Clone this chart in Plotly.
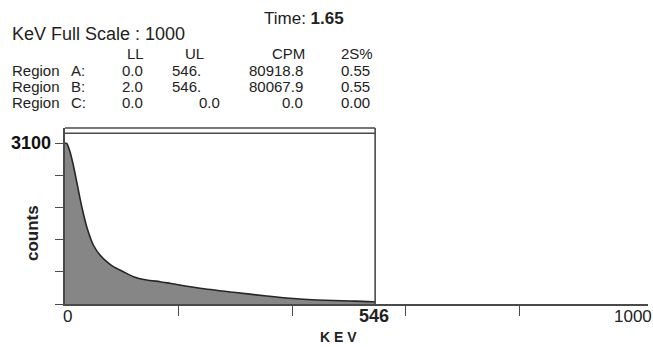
import plotly.graph_objects as go

# ---- data ----
kev = [0, 3, 8.8, 14.6, 20.6, 26.4, 32.2, 38.2, 49.8, 61.6, 73.4, 85, 102.7, 120.3,
       143.9, 167.3, 184.9, 237.8, 296.4, 355.2, 396, 443, 501.9, 543, 546]
counts = [3100, 3100, 2938, 2681, 2359, 2039, 1750, 1491, 1138, 945, 816, 720, 623, 527,
          463, 430, 399, 303, 226, 154, 110, 77, 58, 44, 40]
y_ticks = [0, 620, 1240, 1860, 2480, 3100]
x_ticks = [200, 400, 600, 800]
region_names = ["A:", "B:", "C:"]
ll_vals = ["0.0", "2.0", "0.0"]
ul_vals = ["546.", "546.", "0.0"]
cpm_vals = ["80918.8", "80067.9", "0.0"]
s2_vals = ["0.55", "0.55", "0.00"]
full_scale = 1000
roi_upper = 546
y_max_label = 3100
time_val = "1.65"

# ---- layout geometry (pixels) ----
W, H = 653, 347
L, R, T, B = 65, 648, 128, 304
X_RANGE = (R - L) / ((633 - 65) / full_scale)
Y_RANGE = (B - T) / ((B - 143.3) / y_max_label)
FONT = "Liberation Sans, Arial, sans-serif"
DARK = "#4a4a4a"


def px(x):
    return (x - L) / (R - L)


def py(y):
    return (B - y) / (B - T)


fig = go.Figure()
fig.add_trace(go.Scatter(
    x=kev, y=counts, mode="lines", fill="tozeroy",
    fillcolor="#868686", line=dict(color="#262626", width=1.6, shape="spline", smoothing=0.6),
    hoverinfo="skip", showlegend=False))

ann = []


def text(x, y, s, size=17, anchor="left", bold=False, **kw):
    if bold:
        s = "<b>" + s + "</b>"
    ann.append(dict(x=px(x), y=py(y), xref="paper", yref="paper", text=s, showarrow=False,
                    xanchor=anchor, yanchor="middle", font=dict(family=FONT, size=size, color="#222"), **kw))


text(10, 34, "KeV Full Scale : " + str(full_scale), size=18)
text(262, 19, "Time: <b>" + time_val + "</b>", size=17)
text(135, 53, "LL", size=15, anchor="center")
text(194, 53, "UL", size=15, anchor="center")
text(288, 53, "CPM", size=15, anchor="center")
text(357, 53, "2S%", size=15, anchor="center")
row_y = [70, 86, 102]
ul_right = [203, 203, 222]
RS = 15
for i in range(3):
    text(10, row_y[i], "Region", size=RS)
    text(69, row_y[i], region_names[i], size=RS)
    text(145, row_y[i], ll_vals[i], size=RS, anchor="right")
    text(ul_right[i], row_y[i], ul_vals[i], size=RS, anchor="right")
    text(305, row_y[i], cpm_vals[i], size=RS, anchor="right")
    text(372, row_y[i], s2_vals[i], size=RS, anchor="right")

# axis labels
ann.append(dict(x=0, y=py(316), xref="x", yref="paper", text="0", showarrow=False,
                xanchor="center", yanchor="middle", xshift=2, font=dict(family=FONT, size=17, color="#222")))
ann.append(dict(x=roi_upper, y=py(316), xref="x", yref="paper", text="<b>%d</b>" % roi_upper,
                showarrow=False, xanchor="center", yanchor="middle", xshift=-1,
                font=dict(family=FONT, size=18, color="#222")))
ann.append(dict(x=full_scale, y=py(316), xref="x", yref="paper", text=str(full_scale), showarrow=False,
                xanchor="center", yanchor="middle", font=dict(family=FONT, size=17, color="#222")))
ann.append(dict(x=px(53), y=y_max_label, xref="paper", yref="y", text="<b>%d</b>" % y_max_label,
                showarrow=False, xanchor="right", yanchor="middle",
                font=dict(family=FONT, size=18, color="#111")))
text(32, 233, "counts", size=17, anchor="center", bold=True, textangle=-90)
text(338, 337, "K E V", size=14, anchor="center", bold=True)

shapes = [
    dict(type="line", xref="x", yref="paper", x0=roi_upper, x1=roi_upper, y0=0, y1=1,
         line=dict(color=DARK, width=1.6)),
    dict(type="line", xref="x", yref="paper", x0=0, x1=roi_upper, y0=1, y1=1,
         line=dict(color=DARK, width=1.6)),
    dict(type="line", xref="x", yref="paper", x0=0, x1=roi_upper, y0=py(133.3), y1=py(133.3),
         line=dict(color=DARK, width=1.6)),
]

fig.update_layout(
    width=W, height=H, margin=dict(l=L, r=W - R, t=T, b=H - B),
    paper_bgcolor="white", plot_bgcolor="white",
    annotations=ann, shapes=shapes, showlegend=False,
    xaxis=dict(range=[0, X_RANGE], tickvals=x_ticks, showticklabels=False, ticks="outside",
               ticklen=10, tickwidth=1.4, tickcolor=DARK, showline=True, linecolor=DARK,
               linewidth=1.8, showgrid=False, zeroline=False, fixedrange=True),
    yaxis=dict(range=[0, Y_RANGE], tickvals=y_ticks, showticklabels=False, ticks="outside",
               ticklen=8, tickwidth=1.4, tickcolor=DARK, showline=True, linecolor=DARK,
               linewidth=1.8, showgrid=False, zeroline=False, fixedrange=True),
)

fig.write_html("out.html", config={"displayModeBar": False},
               post_script="document.body.style.margin='0';document.body.style.overflow='hidden';")
